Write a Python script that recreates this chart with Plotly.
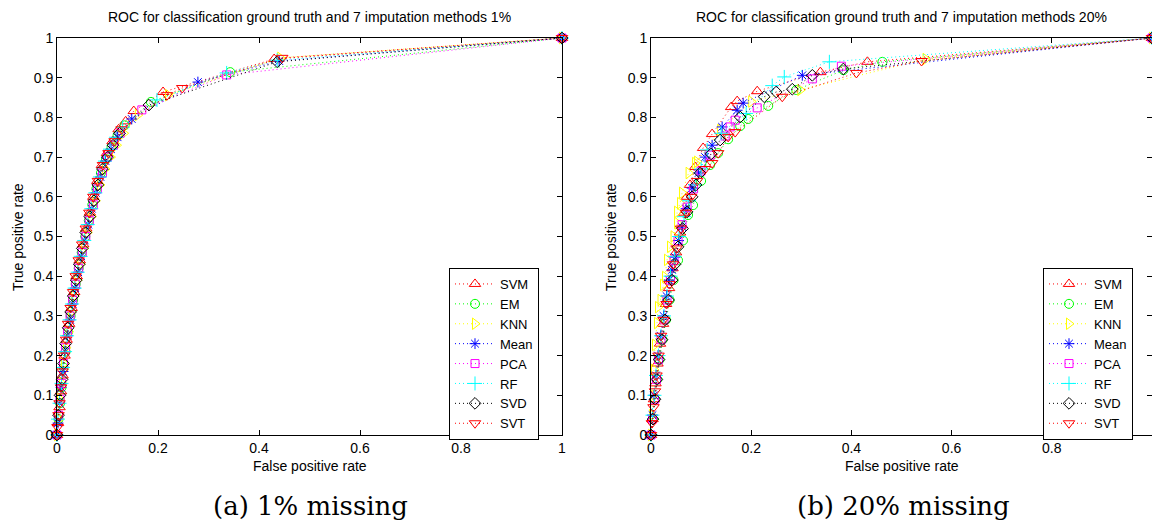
import plotly.graph_objects as go

# ---------------- data ----------------
methods = ["SVM", "EM", "KNN", "Mean", "PCA", "RF", "SVD", "SVT"]

# Panel (a): 1% missing
svm_1_fpr = [0, 0.002, 0.005, 0.008, 0.011, 0.015, 0.019, 0.024, 0.029, 0.034, 0.039, 0.045, 0.052, 0.058, 0.065, 0.072, 0.080, 0.089, 0.099, 0.110, 0.122, 0.136, 0.152, 0.210, 0.430, 1]
svm_1_tpr = [0, 0.03, 0.07, 0.11, 0.15, 0.20, 0.24, 0.28, 0.32, 0.36, 0.40, 0.44, 0.48, 0.52, 0.56, 0.60, 0.64, 0.68, 0.71, 0.74, 0.77, 0.79, 0.816, 0.864, 0.947, 1]
em_1_fpr = [0, 0.003, 0.006, 0.009, 0.013, 0.017, 0.022, 0.027, 0.032, 0.037, 0.043, 0.049, 0.056, 0.063, 0.070, 0.078, 0.087, 0.097, 0.108, 0.120, 0.134, 0.186, 0.343, 1]
em_1_tpr = [0, 0.04, 0.08, 0.12, 0.17, 0.21, 0.26, 0.30, 0.34, 0.38, 0.42, 0.46, 0.50, 0.54, 0.58, 0.62, 0.66, 0.695, 0.725, 0.755, 0.78, 0.839, 0.914, 1]
knn_1_fpr = [0, 0.003, 0.006, 0.010, 0.014, 0.018, 0.023, 0.028, 0.034, 0.040, 0.046, 0.053, 0.060, 0.068, 0.076, 0.085, 0.095, 0.106, 0.118, 0.132, 0.160, 0.220, 0.442, 1]
knn_1_tpr = [0, 0.04, 0.09, 0.13, 0.18, 0.22, 0.26, 0.31, 0.35, 0.39, 0.43, 0.47, 0.51, 0.55, 0.59, 0.63, 0.67, 0.70, 0.73, 0.76, 0.806, 0.856, 0.95, 1]
mean_1_fpr = [0, 0.002, 0.005, 0.008, 0.012, 0.016, 0.021, 0.026, 0.031, 0.036, 0.042, 0.048, 0.055, 0.062, 0.069, 0.077, 0.086, 0.096, 0.107, 0.120, 0.148, 0.279, 0.440, 1]
mean_1_tpr = [0, 0.03, 0.08, 0.12, 0.16, 0.21, 0.25, 0.29, 0.33, 0.37, 0.41, 0.45, 0.49, 0.53, 0.57, 0.61, 0.65, 0.69, 0.72, 0.75, 0.796, 0.889, 0.942, 1]
pca_1_fpr = [0, 0.003, 0.006, 0.009, 0.013, 0.017, 0.021, 0.026, 0.031, 0.037, 0.043, 0.050, 0.057, 0.064, 0.072, 0.080, 0.090, 0.100, 0.112, 0.125, 0.168, 0.336, 1]
pca_1_tpr = [0, 0.05, 0.09, 0.13, 0.18, 0.22, 0.26, 0.30, 0.34, 0.38, 0.42, 0.46, 0.50, 0.54, 0.58, 0.62, 0.66, 0.70, 0.73, 0.76, 0.819, 0.907, 1]
rf_1_fpr = [0, 0.002, 0.005, 0.009, 0.012, 0.016, 0.020, 0.025, 0.030, 0.035, 0.041, 0.047, 0.054, 0.061, 0.068, 0.076, 0.085, 0.095, 0.105, 0.117, 0.130, 0.198, 0.336, 0.436, 1]
rf_1_tpr = [0, 0.04, 0.08, 0.13, 0.17, 0.21, 0.25, 0.29, 0.33, 0.37, 0.41, 0.45, 0.49, 0.53, 0.57, 0.61, 0.65, 0.69, 0.72, 0.75, 0.775, 0.844, 0.912, 0.944, 1]
svd_1_fpr = [0, 0.003, 0.006, 0.010, 0.013, 0.017, 0.022, 0.027, 0.032, 0.038, 0.044, 0.050, 0.057, 0.065, 0.073, 0.081, 0.090, 0.100, 0.111, 0.124, 0.182, 0.436, 1]
svd_1_tpr = [0, 0.05, 0.10, 0.14, 0.18, 0.23, 0.27, 0.31, 0.35, 0.39, 0.43, 0.47, 0.51, 0.55, 0.59, 0.63, 0.67, 0.70, 0.73, 0.76, 0.831, 0.94, 1]
svt_1_fpr = [0, 0.001, 0.003, 0.005, 0.008, 0.011, 0.014, 0.018, 0.022, 0.027, 0.032, 0.037, 0.043, 0.050, 0.057, 0.064, 0.072, 0.081, 0.091, 0.102, 0.114, 0.128, 0.218, 0.248, 0.446, 1]
svt_1_tpr = [0, 0.02, 0.05, 0.08, 0.12, 0.16, 0.20, 0.24, 0.28, 0.32, 0.36, 0.40, 0.44, 0.48, 0.52, 0.56, 0.60, 0.64, 0.68, 0.71, 0.74, 0.77, 0.856, 0.874, 0.95, 1]

# Panel (b): 20% missing
svm_20_fpr = [0, 0.003, 0.006, 0.009, 0.013, 0.018, 0.024, 0.030, 0.036, 0.043, 0.050, 0.058, 0.066, 0.072, 0.078, 0.088, 0.104, 0.122, 0.160, 0.172, 0.212, 0.338, 0.432, 1]
svm_20_tpr = [0, 0.04, 0.09, 0.13, 0.18, 0.23, 0.28, 0.33, 0.37, 0.42, 0.46, 0.51, 0.56, 0.60, 0.63, 0.675, 0.723, 0.758, 0.826, 0.841, 0.866, 0.914, 0.94, 1]
em_20_fpr = [0, 0.004, 0.008, 0.012, 0.017, 0.023, 0.030, 0.037, 0.045, 0.054, 0.064, 0.074, 0.084, 0.100, 0.118, 0.134, 0.154, 0.178, 0.194, 0.234, 0.290, 0.384, 0.462, 1]
em_20_tpr = [0, 0.04, 0.09, 0.14, 0.19, 0.24, 0.29, 0.34, 0.39, 0.44, 0.49, 0.554, 0.579, 0.64, 0.68, 0.71, 0.745, 0.778, 0.796, 0.829, 0.869, 0.919, 0.94, 1]
knn_20_fpr = [0, 0.002, 0.004, 0.006, 0.008, 0.012, 0.014, 0.019, 0.024, 0.028, 0.032, 0.038, 0.045, 0.052, 0.052, 0.058, 0.062, 0.075, 0.088, 0.092, 0.138, 0.200, 0.298, 0.548, 1]
knn_20_tpr = [0, 0.05, 0.10, 0.164, 0.227, 0.282, 0.322, 0.34, 0.378, 0.398, 0.441, 0.474, 0.50, 0.534, 0.562, 0.584, 0.61, 0.66, 0.685, 0.688, 0.768, 0.84, 0.869, 0.947, 1]
mean_20_fpr = [0, 0.003, 0.006, 0.010, 0.014, 0.019, 0.025, 0.031, 0.036, 0.042, 0.048, 0.055, 0.062, 0.070, 0.082, 0.095, 0.108, 0.122, 0.142, 0.172, 0.184, 0.302, 1]
mean_20_tpr = [0, 0.05, 0.10, 0.15, 0.20, 0.25, 0.30, 0.35, 0.39, 0.416, 0.448, 0.49, 0.524, 0.57, 0.622, 0.66, 0.70, 0.73, 0.776, 0.818, 0.836, 0.906, 1]
pca_20_fpr = [0, 0.003, 0.007, 0.011, 0.015, 0.020, 0.026, 0.032, 0.039, 0.046, 0.054, 0.062, 0.072, 0.085, 0.100, 0.118, 0.148, 0.158, 0.168, 0.212, 0.322, 0.380, 1]
pca_20_tpr = [0, 0.04, 0.09, 0.14, 0.19, 0.24, 0.29, 0.34, 0.39, 0.44, 0.49, 0.53, 0.574, 0.62, 0.665, 0.705, 0.753, 0.776, 0.793, 0.824, 0.897, 0.929, 1]
rf_20_fpr = [0, 0.003, 0.007, 0.010, 0.015, 0.020, 0.026, 0.032, 0.039, 0.047, 0.056, 0.066, 0.076, 0.088, 0.100, 0.112, 0.140, 0.190, 0.242, 0.266, 0.356, 1]
rf_20_tpr = [0, 0.05, 0.10, 0.15, 0.20, 0.25, 0.30, 0.35, 0.40, 0.45, 0.50, 0.55, 0.59, 0.63, 0.67, 0.718, 0.76, 0.81, 0.88, 0.902, 0.94, 1]
svd_20_fpr = [0, 0.004, 0.008, 0.012, 0.016, 0.022, 0.028, 0.035, 0.042, 0.048, 0.054, 0.063, 0.072, 0.082, 0.090, 0.098, 0.120, 0.138, 0.178, 0.226, 0.250, 0.282, 0.322, 0.384, 1]
svd_20_tpr = [0, 0.04, 0.09, 0.14, 0.19, 0.24, 0.29, 0.34, 0.39, 0.43, 0.474, 0.52, 0.562, 0.60, 0.63, 0.66, 0.708, 0.743, 0.801, 0.852, 0.864, 0.871, 0.906, 0.922, 1]
svt_20_fpr = [0, 0.002, 0.005, 0.008, 0.011, 0.015, 0.020, 0.025, 0.031, 0.037, 0.044, 0.051, 0.060, 0.070, 0.080, 0.092, 0.108, 0.122, 0.134, 0.154, 0.168, 0.262, 0.410, 0.540, 1]
svt_20_tpr = [0, 0.03, 0.07, 0.11, 0.15, 0.20, 0.25, 0.29, 0.33, 0.38, 0.43, 0.47, 0.52, 0.56, 0.60, 0.64, 0.67, 0.685, 0.71, 0.751, 0.763, 0.852, 0.912, 0.942, 1]

x_ticks = [0, 0.2, 0.4, 0.6, 0.8, 1]
x_ticktext = ["0", "0.2", "0.4", "0.6", "0.8", "1"]
y_ticks = [0, 0.1, 0.2, 0.3, 0.4, 0.5, 0.6, 0.7, 0.8, 0.9, 1]
y_ticktext = ["0", "0.1", "0.2", "0.3", "0.4", "0.5", "0.6", "0.7", "0.8", "0.9", "1"]

titles = ["ROC for classification ground truth and 7 imputation methods 1%",
          "ROC for classification ground truth and 7 imputation methods 20%"]
captions = ["(a) 1% missing", "(b) 20% missing"]

panel_data = [
    [(svm_1_fpr, svm_1_tpr), (em_1_fpr, em_1_tpr), (knn_1_fpr, knn_1_tpr), (mean_1_fpr, mean_1_tpr),
     (pca_1_fpr, pca_1_tpr), (rf_1_fpr, rf_1_tpr), (svd_1_fpr, svd_1_tpr), (svt_1_fpr, svt_1_tpr)],
    [(svm_20_fpr, svm_20_tpr), (em_20_fpr, em_20_tpr), (knn_20_fpr, knn_20_tpr), (mean_20_fpr, mean_20_tpr),
     (pca_20_fpr, pca_20_tpr), (rf_20_fpr, rf_20_tpr), (svd_20_fpr, svd_20_tpr), (svt_20_fpr, svt_20_tpr)],
]

# ---------------- styles ----------------
colors = ["#FF0000", "#00FF00", "#FFFF00", "#0000FF", "#FF00FF", "#00FFFF", "#000000", "#FF0000"]
symbols = ["triangle-up-open", "circle-open", "triangle-right-open", "asterisk-open",
           "square-open", "cross-thin-open", "diamond-open", "triangle-down-open"]
sizes = [10, 9, 10, 9, 8, 10, 9, 10]

W, H = 1152, 529
FONT = "Liberation Sans, Arial, sans-serif"
FS = 14

fig = go.Figure()

axis_ids = [("x", "y"), ("x2", "y2")]
legends = ["legend", "legend2"]
for p in range(2):
    xa, ya = axis_ids[p]
    for i, m in enumerate(methods):
        fx, ty = panel_data[p][i]
        fig.add_trace(go.Scatter(
            x=fx, y=ty, name=m, mode="lines+markers",
            xaxis=xa, yaxis=ya, legend=legends[p],
            line=dict(color=colors[i], width=1, dash="1px,3px"),
            marker=dict(symbol=symbols[i], size=sizes[i], color=colors[i],
                        line=dict(color=colors[i], width=1)),
            cliponaxis=False,
        ))

x_domains = [[57 / W, 562 / W], [651 / W, 1.0]]
y_domain = [1 - 435 / H, 1 - 38 / H]

def xax(dom, anchor):
    return dict(domain=dom, anchor=anchor, range=[0, 1], tickvals=x_ticks, ticktext=x_ticktext,
                ticks="inside", ticklen=5, tickwidth=1, tickcolor="black",
                showline=True, linecolor="black", linewidth=1, mirror="ticks",
                showgrid=False, zeroline=False, automargin=False,
                tickfont=dict(family=FONT, size=FS, color="black"))

def yax(anchor):
    return dict(domain=y_domain, anchor=anchor, range=[0, 1], tickvals=y_ticks, ticktext=y_ticktext,
                ticks="inside", ticklen=5, tickwidth=1, tickcolor="black",
                showline=True, linecolor="black", linewidth=1, mirror="ticks",
                showgrid=False, zeroline=False, automargin=False,
                tickfont=dict(family=FONT, size=FS, color="black"))

legend_style = dict(bgcolor="white", bordercolor="black", borderwidth=1,
                    font=dict(family=FONT, size=13, color="black"),
                    xanchor="left", yanchor="top", itemwidth=40, tracegroupgap=0,
                    xref="paper", yref="paper")

annotations = []
centers = [(57 + 562) / 2, (651 + 1152) / 2]
for p in range(2):
    annotations.append(dict(text=titles[p], x=centers[p] / W, y=1 - 17 / H, xref="paper", yref="paper",
                            showarrow=False, xanchor="center", yanchor="middle",
                            font=dict(family=FONT, size=FS, color="black")))
    annotations.append(dict(text="False positive rate", x=centers[p] / W, y=1 - 466 / H,
                            xref="paper", yref="paper", showarrow=False,
                            xanchor="center", yanchor="middle",
                            font=dict(family=FONT, size=FS, color="black")))
    annotations.append(dict(text="True positive rate", x=[18, 611][p] / W, y=1 - 237 / H,
                            xref="paper", yref="paper", showarrow=False, textangle=-90,
                            xanchor="center", yanchor="middle",
                            font=dict(family=FONT, size=FS, color="black")))
    annotations.append(dict(text=captions[p], x=[310, 903][p] / W, y=1 - 506 / H,
                            xref="paper", yref="paper", showarrow=False,
                            xanchor="center", yanchor="middle",
                            font=dict(family="DejaVu Serif, serif", size=26, color="black")))

fig.update_layout(
    width=W, height=H,
    margin=dict(l=0, r=0, t=0, b=0),
    paper_bgcolor="white", plot_bgcolor="white",
    xaxis=xax(x_domains[0], "y"), yaxis=yax("x"),
    xaxis2=xax(x_domains[1], "y2"), yaxis2=yax("x2"),
    legend=dict(legend_style, x=449 / W, y=1 - 268 / H),
    legend2=dict(legend_style, x=1043 / W, y=1 - 268 / H),
    annotations=annotations,
    showlegend=True,
)

fig.write_html("out.html")
